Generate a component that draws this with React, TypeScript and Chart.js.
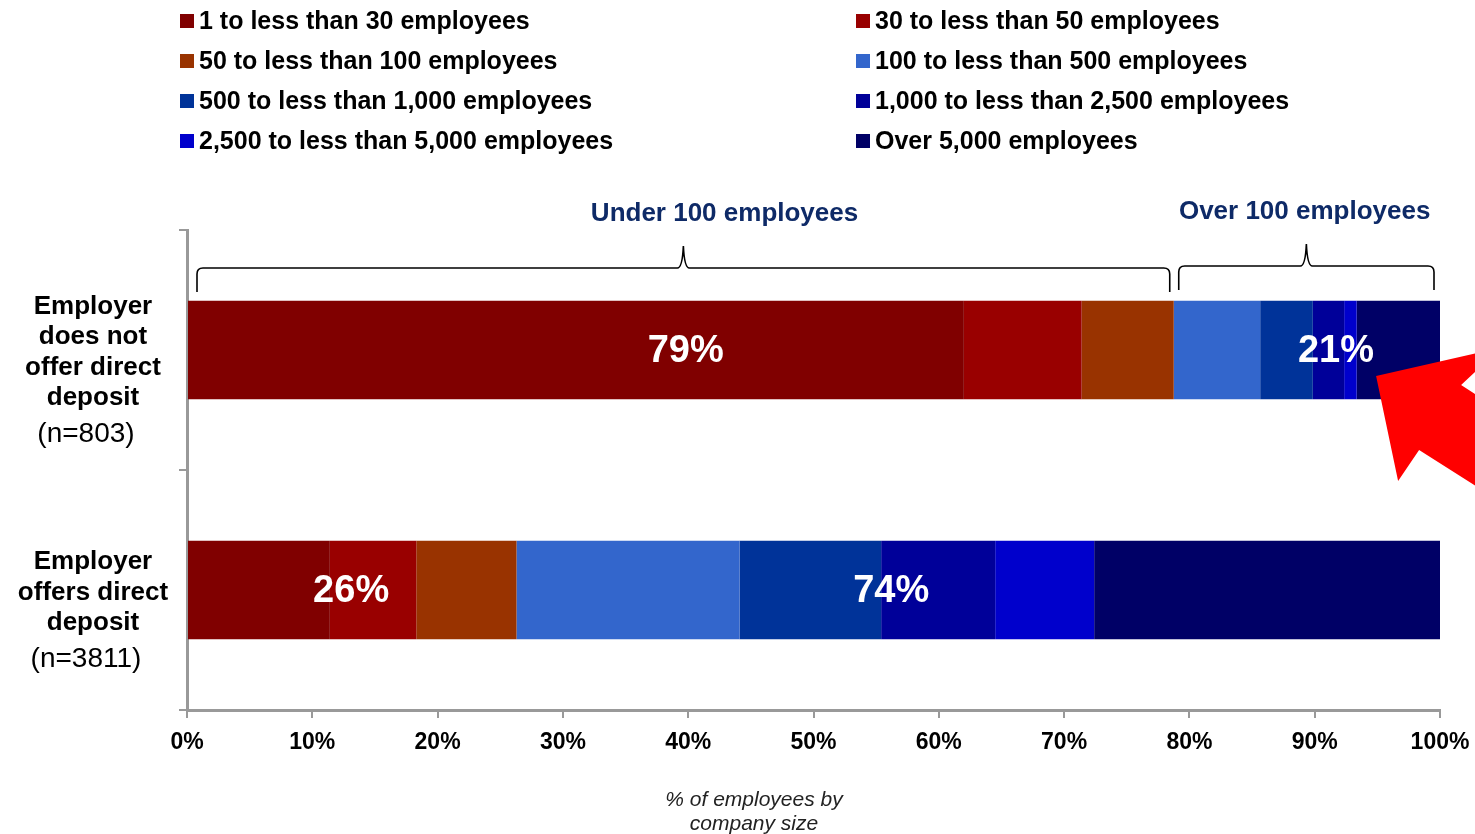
import { useEffect, useRef } from 'react';
import { Chart, registerables } from 'chart.js';

Chart.register(...registerables);

// ---------- data ----------
const categoryLines = [
  ['Employer', 'does not', 'offer direct', 'deposit'],
  ['Employer', 'offers direct', 'deposit'],
];
const sampleSizes = ['(n=803)', '(n=3811)'];

const seriesNames = [
  '1 to less than 30 employees',
  '30 to less than 50 employees',
  '50 to less than 100 employees',
  '100 to less than 500 employees',
  '500 to less than 1,000 employees',
  '1,000 to less than 2,500 employees',
  '2,500 to less than 5,000 employees',
  'Over 5,000 employees',
];
const seriesColors = ['#800000', '#990000', '#993300', '#3366CC', '#003399', '#000099', '#0000CC', '#000066'];

// % of employees, [does not offer, offers]
const emp1to30 = [62.0, 11.4];
const emp30to50 = [9.4, 6.9];
const emp50to100 = [7.35, 8.0];
const emp100to500 = [6.9, 17.8];
const emp500to1000 = [4.2, 11.3];
const emp1000to2500 = [2.5, 9.1];
const emp2500to5000 = [1.0, 7.9];
const empOver5000 = [6.65, 27.6];
const seriesValues = [emp1to30, emp30to50, emp50to100, emp100to500, emp500to1000, emp1000to2500, emp2500to5000, empOver5000];

const xTickValues = [0, 10, 20, 30, 40, 50, 60, 70, 80, 90, 100];
const groupNames = ['Under 100 employees', 'Over 100 employees'];
const underGroupSize = 3; // first three series are "under 100"

// ---------- annotation placement (not data) ----------
const groupLabelAt = [
  [39.8, 91.7],
  [13.1, 56.2],
];
const groupTitleAt = [42.9, 89.2];

const FONT = "'Liberation Sans', Arial, Helvetica, sans-serif";

function drawBrace(ctx: CanvasRenderingContext2D, x1: number, x2: number, y: number, peakY: number, endY: number) {
  const mid = (x1 + x2) / 2;
  const r = 6;
  ctx.beginPath();
  ctx.moveTo(x1, endY);
  ctx.lineTo(x1, y + r);
  ctx.quadraticCurveTo(x1, y, x1 + r, y);
  ctx.lineTo(mid - 6, y);
  ctx.quadraticCurveTo(mid - 1, y, mid, peakY);
  ctx.quadraticCurveTo(mid + 1, y, mid + 6, y);
  ctx.lineTo(x2 - r, y);
  ctx.quadraticCurveTo(x2, y, x2, y + r);
  ctx.lineTo(x2, endY);
  ctx.stroke();
}

const overlayPlugin = {
  id: 'overlay',
  afterDraw(chart: any) {
    const ctx: CanvasRenderingContext2D = chart.ctx;
    const xs = chart.scales.x;
    const ys = chart.scales.y;
    ctx.save();

    // legend
    chart.data.datasets.forEach((ds: any, i: number) => {
      const col = i % 2;
      const row = Math.floor(i / 2);
      const x0 = col === 0 ? 180 : 856;
      const yc = 21 + row * 40;
      ctx.fillStyle = ds.backgroundColor;
      ctx.fillRect(x0, yc - 7, 14, 14);
      ctx.fillStyle = '#000';
      ctx.font = `bold 25px ${FONT}`;
      ctx.textAlign = 'left';
      ctx.textBaseline = 'middle';
      ctx.fillText(ds.label, x0 + 19, yc + 1);
    });

    // totals per group
    const totals = [0, 1].map((row) =>
      seriesValues.reduce(
        (acc, arr, si) => {
          if (si < underGroupSize) acc[0] += arr[row];
          else acc[1] += arr[row];
          return acc;
        },
        [0, 0]
      )
    );

    // braces over top bar
    const underEnd = totals[0][0];
    ctx.strokeStyle = '#000';
    ctx.lineWidth = 1.6;
    const bx1 = xs.getPixelForValue(0) + 10;
    const bx2 = xs.getPixelForValue(underEnd) - 4;
    drawBrace(ctx, bx1, bx2, 268, 246, 292);
    const ox1 = xs.getPixelForValue(underEnd) + 5;
    const ox2 = xs.getPixelForValue(100) - 6;
    drawBrace(ctx, ox1, ox2, 266, 244, 290);

    // group titles
    ctx.fillStyle = '#0E2A67';
    ctx.font = `bold 26px ${FONT}`;
    ctx.textAlign = 'center';
    ctx.textBaseline = 'middle';
    ctx.fillText(groupNames[0], xs.getPixelForValue(groupTitleAt[0]), 214);
    ctx.fillText(groupNames[1], xs.getPixelForValue(groupTitleAt[1]), 212);

    // group percentage labels
    ctx.fillStyle = '#fff';
    ctx.font = `bold 38px ${FONT}`;
    [0, 1].forEach((row) => {
      const yc = ys.getPixelForValue(row) + 2;
      [0, 1].forEach((g) => {
        ctx.fillText(Math.round(totals[row][g]) + '%', xs.getPixelForValue(groupLabelAt[row][g]), yc);
      });
    });

    // category labels
    ctx.fillStyle = '#000';
    categoryLines.forEach((lines, row) => {
      const center = ys.getPixelForValue(row);
      const span = (lines.length - 1) * 30.5 + 36;
      let y = center + 20.5 - span / 2;
      ctx.font = `bold 26px ${FONT}`;
      lines.forEach((ln) => {
        ctx.fillText(ln, 93, y);
        y += 30.5;
      });
      ctx.font = `28px ${FONT}`;
      ctx.fillText(sampleSizes[row], 86, y - 30.5 + 36);
    });

    // x title
    ctx.fillStyle = '#222';
    ctx.font = `italic 21px ${FONT}`;
    ctx.fillText('% of employees by', 754, 800);
    ctx.fillText('company size', 754, 824);

    // red arrow
    const tx = xs.getPixelForValue(94.9);
    const ty = ys.getPixelForValue(0) + 26;
    const pts = [
      [0, 0],
      [125, -28.5],
      [85, 9],
      [200, 83],
      [200, 174],
      [43, 74],
      [22, 105],
    ];
    ctx.fillStyle = '#FF0000';
    ctx.beginPath();
    pts.forEach(([dx, dy], i) => {
      if (i === 0) ctx.moveTo(tx + dx, ty + dy);
      else ctx.lineTo(tx + dx, ty + dy);
    });
    ctx.closePath();
    ctx.fill();

    ctx.restore();
  },
};

export default function App() {
  const ref = useRef<HTMLCanvasElement | null>(null);

  useEffect(() => {
    if (!ref.current) return;
    const chart = new Chart(ref.current, {
      type: 'bar',
      data: {
        labels: categoryLines.map((l) => l.join(' ')),
        datasets: seriesNames.map((name, i) => ({
          label: name,
          data: seriesValues[i],
          backgroundColor: seriesColors[i],
          borderWidth: 0,
          barPercentage: 0.41,
          categoryPercentage: 1.0,
        })),
      },
      options: {
        indexAxis: 'y',
        animation: false,
        responsive: false,
        devicePixelRatio: 1,
        layout: { padding: { top: 230, right: 35, left: 0, bottom: 0 } },
        plugins: {
          legend: { display: false },
          tooltip: { enabled: false },
          title: { display: false },
        },
        scales: {
          x: {
            type: 'linear',
            stacked: true,
            min: 0,
            max: 100,
            afterFit: (s: any) => {
              s.height = 124;
              s.paddingLeft = 0;
              s.paddingRight = 0;
            },
            afterBuildTicks: (s: any) => {
              s.ticks = xTickValues.map((v) => ({ value: v }));
            },
            ticks: {
              callback: (v: any) => v + '%',
              color: '#000',
              font: { family: FONT, size: 23, weight: 'bold' },
              padding: 11,
              maxRotation: 0,
            },
            grid: { drawOnChartArea: false, drawTicks: true, tickLength: 8, color: '#999', lineWidth: 2 },
            border: { color: '#999', width: 3 },
          },
          y: {
            type: 'category',
            stacked: true,
            afterFit: (s: any) => {
              s.width = 187;
              s.paddingTop = 0;
              s.paddingBottom = 0;
            },
            ticks: { display: false },
            grid: { drawOnChartArea: false, offset: true, drawTicks: true, tickLength: 8, color: '#999', lineWidth: 2 },
            border: { color: '#999', width: 3 },
          },
        },
      } as any,
      plugins: [overlayPlugin],
    });
    return () => chart.destroy();
  }, []);

  return (
    <div style={{ position: 'fixed', left: 0, top: 0, width: 1475, height: 834, background: '#fff' }}>
      <canvas ref={ref} width={1475} height={834} style={{ width: 1475, height: 834, display: 'block' }} />
    </div>
  );
}
